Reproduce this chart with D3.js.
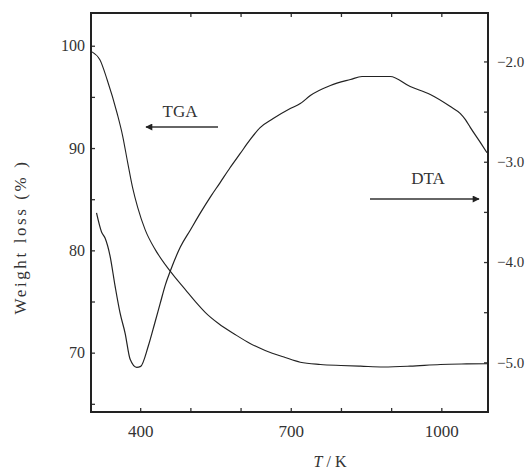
<!DOCTYPE html>
<html>
<head>
<meta charset="utf-8">
<script src="https://cdn.jsdelivr.net/npm/d3@7"></script>
<style>
  html, body { margin: 0; padding: 0; background: #fff; }
  svg { display: block; }
  text { font-family: "Liberation Serif", "Times New Roman", serif; fill: #333; }
</style>
</head>
<body>
<svg id="chart" width="529" height="470"></svg>
<script>
// ---- data ----
const tgaTemp = [304, 320, 334, 354, 365, 375, 385, 395, 410, 430, 450, 470, 490, 510, 530, 556, 589, 619, 649, 689, 719, 759, 800, 839, 885, 938, 998, 1050, 1091];
const tgaWeight = [99.4, 98.6, 96.7, 93.4, 91.2, 88.6, 86.1, 84.2, 82.0, 80.07, 78.6, 77.33, 76.16, 74.99, 73.92, 72.85, 71.78, 70.9, 70.22, 69.53, 69.07, 68.85, 68.75, 68.68, 68.6, 68.68, 68.85, 68.9, 68.92];

const dtaTemp = [313, 323, 330, 340, 350, 360, 370, 380, 393, 401, 416, 429, 440, 450, 460, 480, 500, 520, 540, 559, 579, 599, 619, 639, 665, 699, 719, 739, 779, 819, 842, 870, 898, 938, 978, 1018, 1038, 1048, 1058, 1078, 1091];
const dtaValue = [-3.51, -3.70, -3.76, -3.94, -4.24, -4.51, -4.71, -4.97, -5.05, -5.04, -4.84, -4.61, -4.41, -4.23, -4.09, -3.85, -3.68, -3.51, -3.35, -3.21, -3.06, -2.92, -2.78, -2.66, -2.57, -2.47, -2.42, -2.34, -2.24, -2.18, -2.15, -2.15, -2.15, -2.25, -2.33, -2.45, -2.52, -2.58, -2.66, -2.81, -2.91];

const xTicks = [400, 500, 600, 700, 800, 900, 1000];
const xTickLabels = [400, 700, 1000];
const xTopTicks = [500, 600, 700, 800, 900, 1000];
const leftTicks = [65, 70, 75, 80, 85, 90, 95, 100];
const leftTickLabels = [70, 80, 90, 100];
const rightTicks = [-5.0, -4.5, -4.0, -3.5, -3.0, -2.5, -2.0];
const rightTickLabels = [-5.0, -4.0, -3.0, -2.0];

const xDomain = [302, 1093];
const leftDomain = [64.2, 103.2];
const rightDomain = [-5.495, -1.517];

// ---- layout ----
const L = 91, R = 488, T = 13, B = 412;
const svg = d3.select("#chart");

const x = d3.scaleLinear().domain(xDomain).range([L, R]);
const yL = d3.scaleLinear().domain(leftDomain).range([B, T]);
const yR = d3.scaleLinear().domain(rightDomain).range([B, T]);

function styleAxis(g) {
  g.select(".domain").remove();
  g.selectAll(".tick line").attr("stroke", "#333").attr("stroke-width", 1.3);
}

svg.append("g").attr("transform", `translate(0,${B})`)
  .call(d3.axisBottom(x).tickValues(xTicks).tickSize(-4).tickPadding(13)
    .tickFormat(d => xTickLabels.includes(d) ? d : ""))
  .call(styleAxis)
  .call(g => g.selectAll("text").attr("font-size", 17).attr("font-family", "Liberation Serif").attr("fill", "#333"));

svg.append("g").attr("transform", `translate(0,${T})`)
  .call(d3.axisTop(x).tickValues(xTopTicks).tickSize(-4).tickFormat(""))
  .call(styleAxis);

svg.append("g").attr("transform", `translate(${L},0)`)
  .call(d3.axisLeft(yL).tickValues(leftTicks).tickSize(-4).tickPadding(6)
    .tickFormat(d => leftTickLabels.includes(d) ? d : ""))
  .call(styleAxis)
  .call(g => g.selectAll("text").attr("font-size", 16).attr("font-family", "Liberation Serif").attr("fill", "#333"));

svg.append("g").attr("transform", `translate(${R},0)`)
  .call(d3.axisRight(yR).tickValues(rightTicks).tickSize(-4).tickPadding(9)
    .tickFormat(d => rightTickLabels.includes(d) ? d3.format(".1f")(d) : ""))
  .call(styleAxis)
  .call(g => g.selectAll("text").attr("font-size", 15).attr("font-family", "Liberation Serif").attr("fill", "#333"));

// frame
svg.append("rect").attr("x", L).attr("y", T).attr("width", R - L).attr("height", B - T)
  .attr("fill", "none").attr("stroke", "#222").attr("stroke-width", 2);

// curves
const tgaLine = d3.line().x((d, i) => x(tgaTemp[i])).y(d => yL(d)).curve(d3.curveMonotoneX);
const dtaLine = d3.line().x((d, i) => x(dtaTemp[i])).y(d => yR(d)).curve(d3.curveMonotoneX);

svg.append("path").attr("d", tgaLine(tgaWeight)).attr("fill", "none").attr("stroke", "#222").attr("stroke-width", 1.1);
svg.append("path").attr("d", dtaLine(dtaValue)).attr("fill", "none").attr("stroke", "#222").attr("stroke-width", 1.2);

// legend arrows
const defs = svg.append("defs");
defs.append("marker").attr("id", "ah").attr("viewBox", "0 0 10 10").attr("refX", 9).attr("refY", 5)
  .attr("markerWidth", 8).attr("markerHeight", 7).attr("markerUnits", "userSpaceOnUse").attr("orient", "auto")
  .append("path").attr("d", "M0,0 L10,5 L0,10 Z").attr("fill", "#222");

svg.append("line").attr("x1", 218).attr("y1", 127).attr("x2", 146).attr("y2", 127)
  .attr("stroke", "#333").attr("stroke-width", 1.4).attr("marker-end", "url(#ah)");
svg.append("text").attr("x", 180).attr("y", 117).attr("text-anchor", "middle").attr("font-size", 17).text("TGA");

svg.append("line").attr("x1", 370).attr("y1", 199).attr("x2", 479).attr("y2", 199)
  .attr("stroke", "#333").attr("stroke-width", 1.4).attr("marker-end", "url(#ah)");
svg.append("text").attr("x", 428).attr("y", 184).attr("text-anchor", "middle").attr("font-size", 17).text("DTA");

// axis titles
const xt = svg.append("text").attr("x", 330).attr("y", 467).attr("text-anchor", "middle").attr("font-size", 16);
xt.append("tspan").attr("font-style", "italic").text("T");
xt.append("tspan").text(" / K");

svg.append("text").attr("transform", "translate(26,237) rotate(-90)").attr("text-anchor", "middle")
  .attr("font-size", 17).attr("letter-spacing", 2.6).text("Weight loss (%  )");
</script>
</body>
</html>
